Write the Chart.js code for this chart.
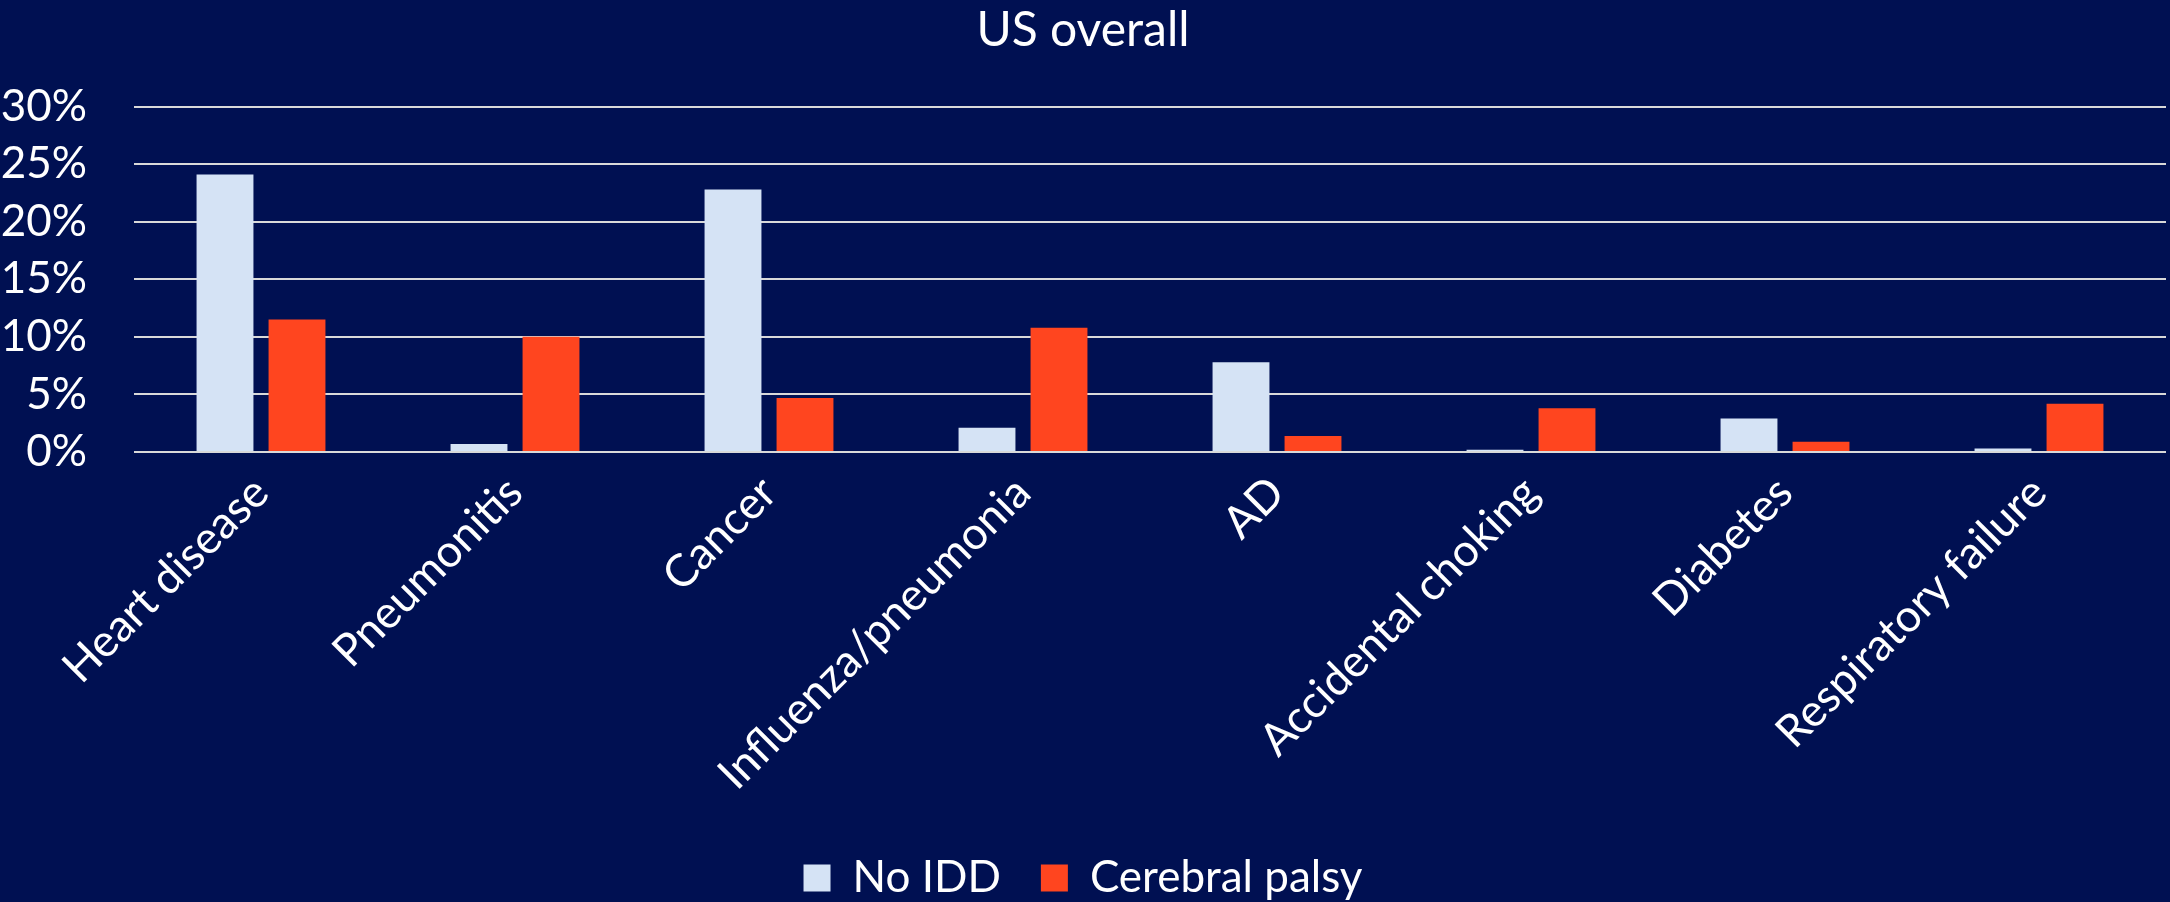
<!DOCTYPE html>
<html>
<head>
<meta charset="utf-8">
<script src="https://cdn.jsdelivr.net/npm/chart.js@4.4.0/dist/chart.umd.min.js"></script>
<style>
  body { margin: 0; background: #001052; }
  .wrap { width: 2170px; height: 902px; position: relative; }
</style>
</head>
<body>
<div class="wrap"><canvas id="myChart"></canvas></div>
<script>
/* data */
const categories = ['Heart disease', 'Pneumonitis', 'Cancer', 'Influenza/pneumonia', 'AD', 'Accidental choking', 'Diabetes', 'Respiratory failure'];
const noIdd = [24.1, 0.7, 22.8, 2.1, 7.8, 0.2, 2.9, 0.3];
const cerebralPalsy = [11.5, 10.0, 4.7, 10.8, 1.4, 3.8, 0.9, 4.2];
const yTicks = [0, 5, 10, 15, 20, 25, 30];

const fontFamily = 'Lato, "Open Sans", sans-serif';

const ctx = document.getElementById('myChart');
const myChart = new Chart(ctx, {
    type: 'bar',
    data: {
        labels: categories,
        datasets: [{
            label: 'No IDD',
            data: noIdd,
            backgroundColor: '#D5E3F5',
            borderWidth: 0
        }, {
            label: 'Cerebral palsy',
            data: cerebralPalsy,
            backgroundColor: '#FF451F',
            borderWidth: 0
        }]
    },
    options: {
        responsive: true,
        maintainAspectRatio: false,
        animation: false,
        categoryPercentage: 0.567,
        barPercentage: 0.79,
        layout: { padding: { left: 0, right: 4, top: 0, bottom: -8 } },
        plugins: {
            title: {
                display: true,
                text: 'US overall',
                color: '#ffffff',
                font: { family: fontFamily, size: 48, weight: 'normal' },
                padding: { top: 2, bottom: 47 }
            },
            legend: {
                position: 'bottom',
                padding: 0,
                labels: {
                    color: '#ffffff',
                    font: { family: fontFamily, size: 44 },
                    boxWidth: 27,
                    boxHeight: 27,
                    padding: 40
                }
            },
            tooltip: { enabled: false }
        },
        scales: {
            x: {
                grid: { display: false, drawTicks: false },
                border: { display: false },
                ticks: {
                    color: '#ffffff',
                    font: { family: fontFamily, size: 45 },
                    minRotation: 45,
                    maxRotation: 45,
                    padding: 14
                },
                afterFit: function(scale) { scale.height = 364; }
            },
            y: {
                min: 0,
                max: 30,
                afterBuildTicks: function(scale) {
                    scale.ticks = yTicks.map(function(v) { return { value: v }; });
                },
                grid: { color: '#D9D9D9', lineWidth: 2, drawTicks: false },
                border: { display: false },
                ticks: {
                    color: '#ffffff',
                    font: { family: fontFamily, size: 44 },
                    padding: 47,
                    autoSkip: false,
                    callback: function(v) { return v + '%'; }
                },
                afterFit: function(scale) { scale.width = 134; }
            }
        }
    }
});
</script>
</body>
</html>
